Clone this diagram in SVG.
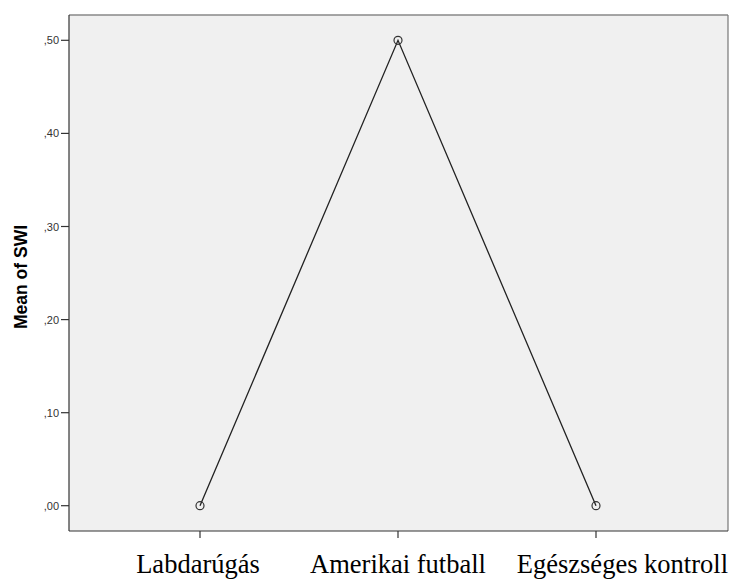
<svg xmlns="http://www.w3.org/2000/svg" width="731" height="581" viewBox="0 0 731 581">
<style>
.ytl{font-family:"Liberation Sans",Arial,sans-serif;font-size:11px;fill:#333;text-anchor:end}
.xtl{font-family:"Liberation Serif","Times New Roman",serif;font-size:26.5px;fill:#000;text-anchor:middle}
.tick{stroke:#333;stroke-width:1.2}
.ax{font-family:"Liberation Sans",Arial,sans-serif;font-size:17.5px;font-weight:bold;fill:#000;text-anchor:middle}
.pt{fill:none;stroke:#333;stroke-width:1.2}
</style>
<rect x="0" y="0" width="731" height="581" fill="#fff"/>
<g id="plot">
<rect x="69" y="15" width="659" height="516" fill="#f0f0f0"/>
<line x1="69" y1="15" x2="728" y2="15" stroke="#888" stroke-width="1.5"/>
<line x1="728" y1="15" x2="728" y2="531" stroke="#777" stroke-width="1.2"/>
<line x1="69" y1="15" x2="69" y2="531" stroke="#333" stroke-width="1.2"/>
<line x1="69" y1="531" x2="728" y2="531" stroke="#333" stroke-width="1.2"/>
</g>
<g id="yaxis">
<line class="tick" x1="61" y1="40.3" x2="69" y2="40.3"/>
<line class="tick" x1="61" y1="133.4" x2="69" y2="133.4"/>
<line class="tick" x1="61" y1="226.5" x2="69" y2="226.5"/>
<line class="tick" x1="61" y1="319.6" x2="69" y2="319.6"/>
<line class="tick" x1="61" y1="412.7" x2="69" y2="412.7"/>
<line class="tick" x1="61" y1="505.7" x2="69" y2="505.7"/>
<text class="ytl" x="59" y="44.3">,50</text>
<text class="ytl" x="59" y="137.4">,40</text>
<text class="ytl" x="59" y="230.5">,30</text>
<text class="ytl" x="59" y="323.6">,20</text>
<text class="ytl" x="59" y="416.7">,10</text>
<text class="ytl" x="59" y="509.7">,00</text>
<text class="ax" transform="translate(27,277) rotate(-90)">Mean of SWI</text>
</g>
<g id="xaxis">
<line class="tick" x1="200" y1="531" x2="200" y2="538"/>
<line class="tick" x1="398" y1="531" x2="398" y2="538"/>
<line class="tick" x1="596" y1="531" x2="596" y2="538"/>
<text class="xtl" x="198" y="573">Labdarúgás</text>
<text class="xtl" x="398" y="573">Amerikai futball</text>
<text class="xtl" x="728" y="573" style="text-anchor:end">Egészséges kontroll</text>
</g>
<g id="connectors">
<polyline points="200,505.7 398,40.3 596,505.7" fill="none" stroke="#222" stroke-width="1.3"/>
</g>
<g id="n1"><circle class="pt" cx="200" cy="505.7" r="4"/></g>
<g id="n2"><circle class="pt" cx="398" cy="40.3" r="4"/></g>
<g id="n3"><circle class="pt" cx="596" cy="505.7" r="4"/></g>
</svg>
